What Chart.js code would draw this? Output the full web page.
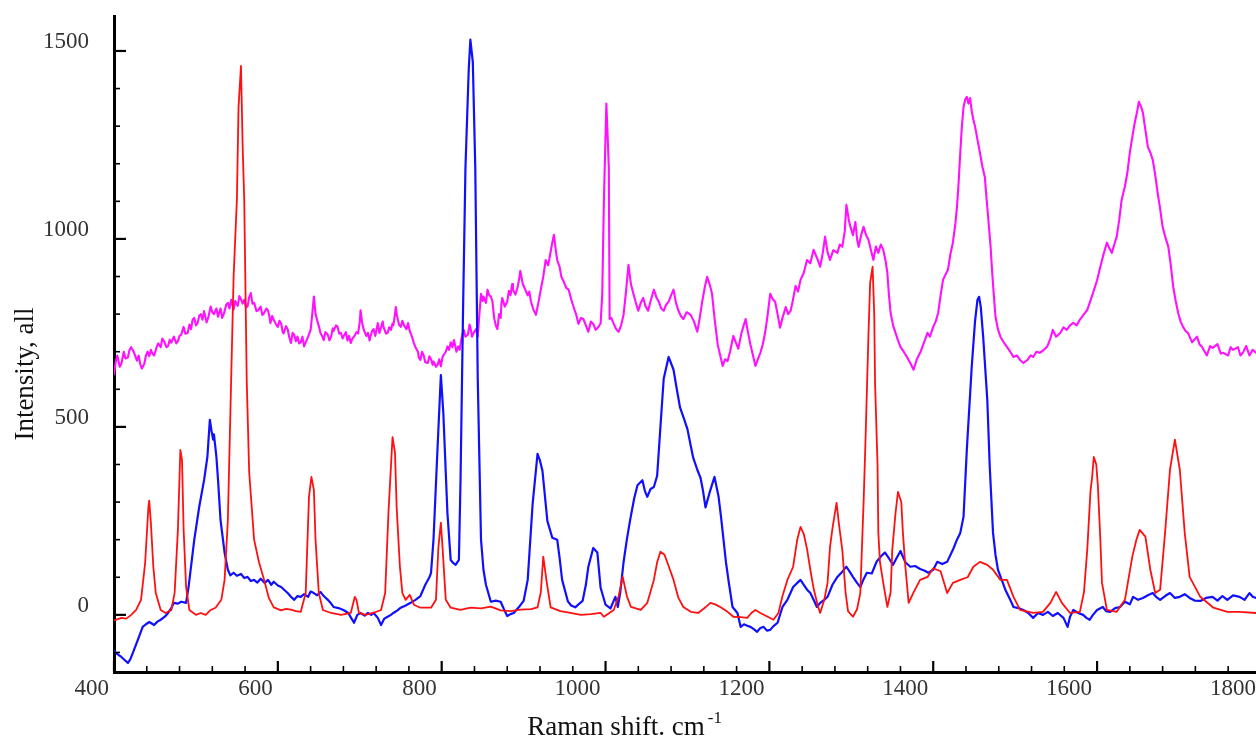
<!DOCTYPE html>
<html><head><meta charset="utf-8">
<script src="https://cdn.jsdelivr.net/npm/chart.js@4/dist/chart.umd.min.js"></script>
<style>html,body{margin:0;padding:0;background:#fff;}canvas{display:block;}</style>
</head><body>
<canvas id="c" width="1256" height="740"></canvas>
<script>
const xTickValues = [400, 600, 800, 1000, 1200, 1400, 1600, 1800];
const yTickValues = [0, 500, 1000, 1500];
const xMinorStep = 40;
const yMinorStep = 100;
const xTitle = 'Raman shift. cm';
const xTitleSup = '-1';
const yTitle = 'Intensity, all';

const redSpectrum = [[400,-15],[409,-8],[415,-10],[421,0],[427,13],[433,40],[438,138],[442,287],[443,304],[445,245],[448,128],[451,58],[457,13],[463,5],[470,13],[474,58],[478,226],[481,439],[483,412],[485,226],[488,74],[492,13],[500,0],[506,5],[512,0],[518,13],[524,19],[531,40],[535,93],[539,253],[543,625],[546,900],[550,1104],[552,1350],[555,1460],[557,1250],[559,1100],[562,625],[565,380],[571,200],[577,140],[583,95],[589,45],[595,20],[604,12],[610,16],[616,14],[622,10],[628,8],[634,58],[638,314],[641,367],[644,332],[646,200],[650,58],[655,13],[665,5],[677,0],[689,5],[694,48],[696,40],[699,5],[707,0],[716,5],[726,13],[731,58],[735,271],[740,473],[743,431],[745,287],[749,128],[752,58],[756,40],[761,53],[766,27],[774,19],[787,19],[793,40],[796,181],[799,245],[801,181],[805,40],[811,19],[823,13],[835,19],[848,17],[860,22],[872,12],[884,10],[896,14],[909,15],[917,20],[921,60],[924,155],[928,90],[933,20],[945,10],[957,5],[970,0],[982,2],[994,5],[998,-5],[1010,13],[1016,50],[1021,101],[1026,50],[1031,21],[1043,13],[1051,32],[1059,93],[1063,140],[1067,168],[1072,160],[1077,130],[1083,93],[1089,45],[1095,21],[1104,8],[1113,5],[1122,20],[1128,32],[1134,28],[1140,21],[1149,8],[1156,-5],[1165,-6],[1173,-8],[1178,5],[1183,13],[1189,5],[1198,-5],[1205,-13],[1211,5],[1216,50],[1222,93],[1229,128],[1234,200],[1238,234],[1242,215],[1246,175],[1250,120],[1254,70],[1259,25],[1262,5],[1267,40],[1271,85],[1274,180],[1277,230],[1282,298],[1285,240],[1289,173],[1293,60],[1296,10],[1302,-5],[1307,15],[1311,58],[1315,300],[1317,439],[1321,750],[1323,883],[1326,926],[1328,800],[1329,617],[1332,400],[1333,218],[1335,140],[1339,85],[1344,21],[1348,60],[1350,173],[1354,271],[1357,327],[1361,300],[1363,218],[1366,128],[1370,32],[1376,60],[1384,93],[1393,101],[1400,124],[1409,116],[1417,58],[1424,85],[1433,93],[1442,100],[1449,128],[1457,141],[1466,133],[1473,120],[1482,93],[1490,93],[1498,48],[1506,13],[1522,5],[1534,8],[1543,32],[1550,61],[1557,32],[1567,5],[1579,8],[1584,60],[1588,173],[1592,330],[1594,367],[1596,420],[1599,400],[1601,343],[1604,200],[1606,85],[1612,13],[1624,8],[1634,40],[1643,155],[1648,200],[1652,226],[1659,208],[1665,120],[1671,58],[1677,67],[1683,218],[1689,386],[1695,466],[1701,386],[1707,218],[1713,101],[1726,48],[1742,19],[1759,8],[1774,8],[1794,5]];

const blueSpectrum = [[400,-95],[402,-101],[409,-112],[413,-120],[417,-128],[420,-118],[423,-101],[429,-67],[435,-32],[439,-25],[443,-19],[449,-27],[453,-18],[457,-13],[462,-5],[466,5],[470,18],[473,32],[478,30],[482,35],[488,32],[491,74],[498,200],[504,287],[510,359],[514,420],[517,519],[519,490],[521,466],[522,480],[525,420],[527,359],[530,253],[535,165],[539,120],[542,105],[546,112],[550,104],[555,109],[559,98],[563,101],[567,90],[571,93],[575,86],[579,96],[584,85],[588,93],[592,80],[595,88],[600,78],[604,74],[608,66],[612,58],[616,48],[620,40],[624,50],[628,48],[632,55],[637,48],[640,62],[644,58],[648,52],[652,61],[656,50],[661,40],[665,30],[668,21],[674,18],[680,13],[686,5],[690,-10],[693,-21],[697,0],[701,5],[706,-2],[710,5],[714,0],[717,5],[722,-8],[726,-27],[730,-10],[734,-5],[738,0],[741,5],[746,12],[750,19],[756,25],[762,32],[768,40],[774,50],[780,80],[785,100],[787,112],[790,200],[795,447],[799,638],[802,537],[807,271],[811,146],[814,138],[817,133],[821,146],[823,359],[826,800],[829,1189],[833,1450],[835,1530],[838,1470],[841,1189],[844,630],[848,200],[851,120],[854,80],[860,35],[866,38],[872,35],[876,15],[880,-3],[884,2],[888,5],[894,20],[900,37],[905,93],[911,295],[917,428],[920,410],[923,383],[929,250],[935,205],[941,200],[944,150],[947,93],[954,36],[958,25],[963,20],[967,28],[972,37],[976,80],[979,128],[985,178],[990,166],[994,72],[1000,27],[1006,17],[1012,48],[1015,21],[1018,60],[1022,140],[1026,200],[1030,252],[1035,310],[1039,345],[1045,358],[1048,330],[1051,314],[1055,335],[1059,340],[1063,370],[1067,500],[1071,628],[1077,686],[1083,652],[1087,600],[1091,551],[1096,520],[1100,494],[1104,450],[1107,418],[1112,386],[1116,364],[1119,330],[1122,286],[1127,325],[1133,367],[1138,314],[1141,260],[1144,200],[1147,140],[1150,93],[1155,21],[1161,5],[1165,-32],[1169,-25],[1173,-29],[1177,-32],[1181,-38],[1185,-45],[1189,-35],[1193,-32],[1197,-42],[1201,-40],[1205,-30],[1210,-21],[1216,21],[1222,40],[1229,74],[1234,85],[1238,93],[1242,80],[1246,67],[1250,58],[1254,40],[1258,21],[1262,32],[1267,40],[1271,48],[1277,80],[1283,101],[1289,115],[1294,128],[1298,115],[1302,101],[1307,85],[1311,74],[1315,95],[1319,112],[1325,110],[1331,142],[1336,155],[1341,166],[1346,150],[1351,133],[1355,150],[1360,170],[1366,140],[1372,128],[1378,130],[1384,122],[1389,118],[1394,112],[1400,120],[1405,141],[1411,135],[1417,141],[1424,173],[1429,200],[1433,218],[1437,261],[1441,439],[1447,660],[1451,780],[1454,838],[1456,846],[1458,820],[1461,739],[1466,572],[1469,394],[1473,218],[1476,160],[1479,120],[1488,67],[1494,40],[1498,21],[1504,18],[1510,13],[1516,5],[1522,-8],[1528,5],[1534,0],[1540,8],[1546,-3],[1552,5],[1559,-8],[1564,-32],[1567,-5],[1571,13],[1577,5],[1583,0],[1587,-8],[1591,-13],[1595,0],[1600,13],[1607,21],[1611,10],[1616,8],[1622,18],[1628,21],[1634,35],[1640,28],[1644,48],[1650,40],[1656,45],[1662,52],[1668,58],[1672,48],[1677,40],[1683,50],[1689,58],[1695,45],[1701,48],[1707,55],[1713,45],[1719,38],[1726,37],[1733,45],[1741,48],[1747,38],[1753,50],[1759,40],[1766,52],[1774,48],[1780,40],[1786,58],[1790,48],[1794,45]];

const magentaSpectrum = [[400,640],[402,672],[404,690],[407,660],[409,668],[412,700],[414,682],[417,685],[419,705],[421,712],[424,700],[426,688],[428,676],[430,690],[432,668],[434,655],[437,668],[439,690],[441,700],[443,688],[445,705],[447,695],[449,690],[452,712],[454,722],[457,712],[459,735],[461,728],[464,712],[466,715],[468,732],[470,724],[473,740],[476,722],[478,728],[480,742],[482,745],[485,766],[487,748],[490,750],[492,772],[494,760],[496,785],[498,790],[500,770],[502,776],[504,795],[506,800],[508,785],[510,808],[513,778],[515,790],[518,820],[520,805],[522,800],[525,815],[527,793],[530,815],[532,790],[534,800],[537,825],[539,830],[541,815],[543,838],[546,812],[548,835],[551,822],[553,848],[555,840],[557,828],[559,838],[561,818],[563,820],[565,845],[567,856],[569,828],[571,830],[574,808],[576,810],[579,820],[581,798],[583,802],[586,815],[588,810],[590,790],[591,776],[593,795],[595,785],[598,772],[600,766],[602,782],[604,775],[606,752],[607,749],[610,768],[612,760],[614,738],[616,723],[618,750],[620,745],[622,728],[624,740],[626,722],[628,725],[630,740],[632,714],[635,730],[637,740],[639,752],[640,758],[642,800],[644,847],[646,800],[649,776],[651,760],[652,750],[654,742],[656,731],[658,752],[661,745],[663,730],[665,740],[667,762],[668,755],[671,770],[673,766],[675,748],[677,750],[679,735],[680,740],[683,752],[685,730],[687,742],[689,723],[691,735],[693,740],[696,752],[698,749],[700,780],[701,810],[703,775],[705,758],[708,742],[710,750],[712,730],[713,740],[715,755],[717,760],[719,742],[722,776],[724,750],[726,765],[728,780],[729,766],[732,748],[734,750],[736,765],[738,758],[740,775],[741,770],[743,800],[744,819],[745,800],[746,790],[748,772],[750,766],[752,782],[754,770],[757,760],[759,776],[761,755],[762,750],[764,738],[766,723],[768,712],[771,700],[772,685],[774,678],[776,700],[778,690],[780,672],[783,670],[785,688],[787,680],[789,665],[790,674],[793,660],[795,665],[797,680],[799,661],[801,685],[802,690],[805,700],[807,714],[809,705],[811,725],[813,712],[815,731],[818,700],[820,714],[822,705],[823,720],[825,745],[827,758],[829,740],[832,745],[834,772],[835,766],[837,740],[839,750],[842,760],[844,740],[846,800],[848,854],[850,835],[851,847],[854,830],[856,865],[858,850],[860,847],[862,833],[864,790],[866,770],[868,760],[870,800],[872,790],[873,830],[874,843],[877,820],[880,833],[882,862],[884,850],[886,880],[887,865],[890,852],[893,875],[895,900],[896,915],[899,880],[902,865],[905,850],[907,860],[909,833],[912,812],[915,798],[918,830],[921,865],[924,900],[927,944],[930,930],[933,966],[935,990],[937,1011],[939,975],[941,944],[944,925],[946,900],[949,886],[952,870],[955,865],[958,840],[961,819],[964,800],[967,774],[970,790],[973,787],[976,770],[979,753],[982,780],[985,774],[988,758],[991,765],[994,775],[996,854],[998,1100],[999,1189],[1001,1360],[1003,1250],[1004,1189],[1005,787],[1007,790],[1010,774],[1013,760],[1016,753],[1019,770],[1022,798],[1025,860],[1028,931],[1031,880],[1034,854],[1037,830],[1040,809],[1043,830],[1046,843],[1049,820],[1052,809],[1055,835],[1059,865],[1062,845],[1065,833],[1068,815],[1071,809],[1074,825],[1077,833],[1080,850],[1083,865],[1086,830],[1089,809],[1092,795],[1095,787],[1099,805],[1104,798],[1108,780],[1112,753],[1115,790],[1118,833],[1121,870],[1124,899],[1127,880],[1130,854],[1133,790],[1137,718],[1140,690],[1143,662],[1146,680],[1149,675],[1152,700],[1156,742],[1159,725],[1162,708],[1166,750],[1171,787],[1174,750],[1177,718],[1180,690],[1183,662],[1186,680],[1189,697],[1192,720],[1195,753],[1198,800],[1201,854],[1204,840],[1207,833],[1210,800],[1213,764],[1216,790],[1220,819],[1223,800],[1226,809],[1229,840],[1232,875],[1235,860],[1238,891],[1242,910],[1246,944],[1250,935],[1254,971],[1258,950],[1262,926],[1265,960],[1268,1006],[1271,965],[1274,944],[1278,970],[1283,963],[1286,985],[1289,979],[1292,1020],[1294,1091],[1297,1050],[1299,1032],[1302,1010],[1305,1045],[1307,1000],[1309,979],[1312,1010],[1315,1032],[1318,1010],[1321,998],[1324,970],[1327,944],[1330,980],[1333,963],[1336,985],[1339,971],[1342,940],[1344,910],[1346,850],[1348,803],[1351,770],[1354,750],[1357,730],[1360,713],[1364,700],[1368,686],[1372,670],[1376,652],[1380,680],[1384,697],[1388,720],[1393,750],[1396,740],[1400,766],[1403,780],[1406,803],[1409,850],[1412,891],[1415,905],[1418,918],[1421,960],[1424,990],[1427,1040],[1429,1085],[1431,1150],[1433,1229],[1435,1300],[1437,1351],[1439,1370],[1441,1378],[1443,1360],[1445,1375],[1447,1340],[1449,1317],[1451,1300],[1454,1264],[1457,1230],[1460,1192],[1463,1165],[1465,1110],[1467,1059],[1470,980],[1472,910],[1474,850],[1476,793],[1479,760],[1482,740],[1486,725],[1490,713],[1494,700],[1498,686],[1502,690],[1506,678],[1510,670],[1515,678],[1519,690],[1522,686],[1526,700],[1530,697],[1535,705],[1539,713],[1543,735],[1546,758],[1550,740],[1555,750],[1559,765],[1563,758],[1567,770],[1571,777],[1575,770],[1579,785],[1584,800],[1588,811],[1591,830],[1595,856],[1600,890],[1604,926],[1608,960],[1612,990],[1615,975],[1618,963],[1621,985],[1624,1006],[1627,1050],[1630,1104],[1634,1140],[1637,1176],[1640,1230],[1643,1271],[1646,1309],[1649,1340],[1651,1365],[1654,1350],[1656,1335],[1659,1290],[1662,1245],[1665,1230],[1668,1210],[1671,1170],[1674,1122],[1677,1080],[1680,1032],[1684,1000],[1687,979],[1690,930],[1693,872],[1696,835],[1699,803],[1702,780],[1705,766],[1708,755],[1711,750],[1716,725],[1722,740],[1725,720],[1728,713],[1734,690],[1738,715],[1741,710],[1747,720],[1751,695],[1754,697],[1760,690],[1763,712],[1766,705],[1772,712],[1775,690],[1778,697],[1782,715],[1786,690],[1790,705],[1794,697]];

const toPoints = arr => arr.map(p => ({x: p[0], y: p[1]}));
const SERIF = '"Liberation Serif", "DejaVu Serif", serif';

const inwardTicks = {
  id: 'inwardTicks',
  afterDraw(chart) {
    const {ctx, chartArea, scales: {x, y}} = chart;
    ctx.save();
    ctx.strokeStyle = '#000';
    for (let v = xTickValues[0]; v <= x.max; v += xMinorStep) {
      const major = xTickValues.includes(v);
      const px = x.getPixelForValue(v);
      ctx.lineWidth = major ? 2.2 : 1.6;
      ctx.beginPath();
      ctx.moveTo(px, chartArea.bottom);
      ctx.lineTo(px, chartArea.bottom - (major ? 11 : 6));
      ctx.stroke();
    }
    const yStart = Math.ceil(y.min / yMinorStep) * yMinorStep;
    for (let v = yStart; v <= y.max; v += yMinorStep) {
      const major = yTickValues.includes(v);
      const py = y.getPixelForValue(v);
      ctx.lineWidth = major ? 2.2 : 1.6;
      ctx.beginPath();
      ctx.moveTo(chartArea.left, py);
      ctx.lineTo(chartArea.left + (major ? 12 : 6), py);
      ctx.stroke();
    }
    ctx.restore();
  }
};

const axisTitles = {
  id: 'axisTitles',
  afterDraw(chart) {
    const {ctx, chartArea} = chart;
    ctx.save();
    ctx.fillStyle = '#111';
    ctx.font = '27px ' + SERIF;
    ctx.textAlign = 'left';
    ctx.textBaseline = 'alphabetic';
    const w = ctx.measureText(xTitle).width;
    const cx = chartArea.left + 502;
    const left = cx - w / 2;
    const base = chart.height - 5;
    ctx.fillText(xTitle, left, base);
    ctx.font = '17px ' + SERIF;
    ctx.fillText(xTitleSup, left + w + 3, base - 12);
    ctx.translate(26, (chartArea.top + chartArea.bottom) / 2 + 30);
    ctx.rotate(-Math.PI / 2);
    ctx.font = '27px ' + SERIF;
    ctx.textAlign = 'center';
    ctx.textBaseline = 'middle';
    ctx.fillText(yTitle, 0, 0);
    ctx.restore();
  }
};

new Chart(document.getElementById('c'), {
  type: 'line',
  data: {
    datasets: [
      {label: 'red', data: toPoints(redSpectrum), borderColor: '#ff1010', borderWidth: 1.8},
      {label: 'blue', data: toPoints(blueSpectrum), borderColor: '#1010ff', borderWidth: 2.2},
      {label: 'magenta', data: toPoints(magentaSpectrum), borderColor: '#ff10ff', borderWidth: 2.1}
    ]
  },
  options: {
    responsive: false,
    animation: false,
    devicePixelRatio: 1,
    layout: {padding: {top: 16, right: 0, bottom: 0, left: 0}},
    elements: {
      point: {radius: 0, hoverRadius: 0},
      line: {tension: 0, borderJoinStyle: 'round', borderCapStyle: 'round', fill: false}
    },
    plugins: {legend: {display: false}, tooltip: {enabled: false}},
    events: [],
    scales: {
      x: {
        type: 'linear',
        min: 400,
        max: 1794,
        afterBuildTicks: s => { s.ticks = xTickValues.map(v => ({value: v})); },
        afterFit: s => { s.height = 68; s.paddingRight = 0; s.paddingLeft = 0; },
        ticks: {
          align: 'end',
          labelOffset: -5,
          padding: 0,
          maxRotation: 0,
          autoSkip: false,
          color: '#333',
          font: {family: SERIF, size: 23},
          callback: v => String(v)
        },
        grid: {display: false, drawTicks: true, tickLength: 3, tickColor: 'rgba(0,0,0,0)'},
        border: {display: true, color: '#000', width: 3}
      },
      y: {
        type: 'linear',
        min: -152,
        max: 1593,
        afterBuildTicks: s => { s.ticks = yTickValues.map(v => ({value: v})); },
        afterFit: s => { s.width = 114; },
        ticks: {
          labelOffset: -9,
          padding: 0,
          autoSkip: false,
          color: '#333',
          font: {family: SERIF, size: 23},
          callback: v => String(v)
        },
        grid: {display: false, drawTicks: true, tickLength: 25, tickColor: 'rgba(0,0,0,0)'},
        border: {display: true, color: '#000', width: 3}
      }
    }
  },
  plugins: [inwardTicks, axisTitles]
});
</script>
</body></html>
